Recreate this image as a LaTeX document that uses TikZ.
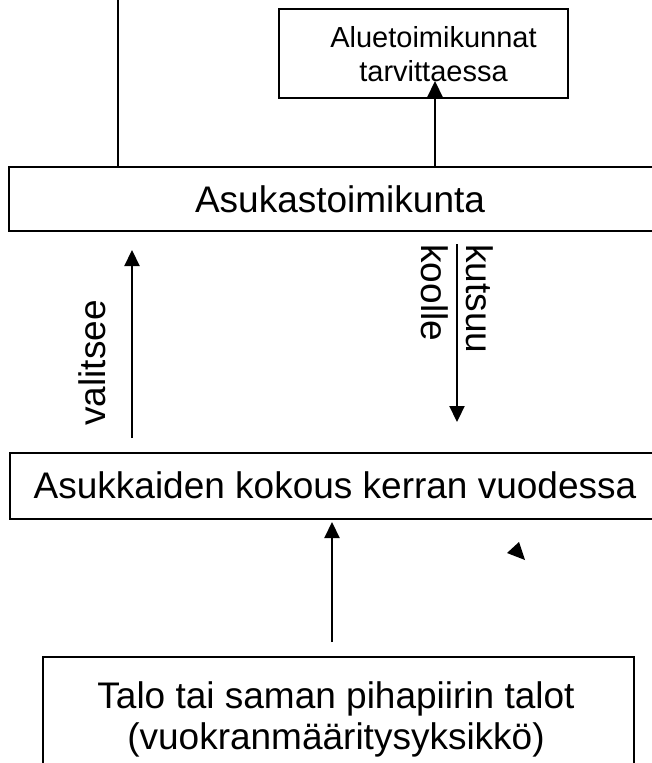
\documentclass[tikz,border=0pt]{standalone}
\usepackage{fontspec}
\setmainfont{Liberation Sans}
\usetikzlibrary{arrows.meta}
\begin{document}
\begin{tikzpicture}[x=1pt,y=-1pt,
  box/.style={draw,line width=2pt,inner sep=0pt},
  lbl/.style={inner sep=0pt,font=\fontsize{37}{43}\selectfont},
  small/.style={inner sep=0pt,align=center,font=\fontsize{29}{34}\selectfont},
  arr/.style={line width=2.2pt,-{Triangle[length=16pt,width=15pt]}},
  ln/.style={line width=2pt}]
\useasboundingbox (0,0) rectangle (652,763);
\clip (0,0) rectangle (652,763);
% boxes
\node[box,minimum width=289pt,minimum height=89pt] (b1) at (423.5,53.5) {};
\node[small] (t1) at (433.5,54.5) {Aluetoimikunnat\\tarvittaessa};
\node[box,minimum width=700pt,minimum height=64pt] (b2) at (359,199) {};
\node[lbl] (t2) at (340,199) {Asukastoimikunta};
\node[box,minimum width=700pt,minimum height=66pt] (b3) at (360,486) {};
\node[lbl] (t3) at (335,485) {Asukkaiden kokous kerran vuodessa};
\node[box,minimum width=591pt,minimum height=160pt] (b4) at (338.5,737) {};
\node[lbl,align=center,font=\fontsize{37}{41}\selectfont] (t4) at (336,719.5) {Talo tai saman pihapiirin talot\\(vuokranmääritysyksikkö)};
% rotated labels
\node[lbl,rotate=90] (tv) at (92.5,363) {valitsee};
\node[lbl,rotate=-90,align=left,font=\fontsize{37}{45}\selectfont] (tk) at (457.5,299) {kutsuu\\koolle};
% helper coordinates
\coordinate (top) at (118,-3);
\coordinate (a1) at (435,81);
\coordinate (xv) at (132,0);
\coordinate (xk) at (457,0);
\coordinate (xb) at (332,0);
% connectors
\draw[ln] (b2.north -| top) -- (top);
\draw[arr] (b2.north -| a1) -- (a1);
\draw[arr,shorten <=14pt,shorten >=18pt] (b3.north -| xv) -- (b2.south -| xv);
\draw[arr,shorten <=12pt,shorten >=30pt] (b2.south -| xk) -- (b3.north -| xk);
\draw[arr,shorten <=14pt,shorten >=2pt] (b4.north -| xb) -- (b3.south -| xb);
% stray arrowhead
\fill (507,553) -- (519,542) -- (525,560) -- cycle;
\end{tikzpicture}
\end{document}
